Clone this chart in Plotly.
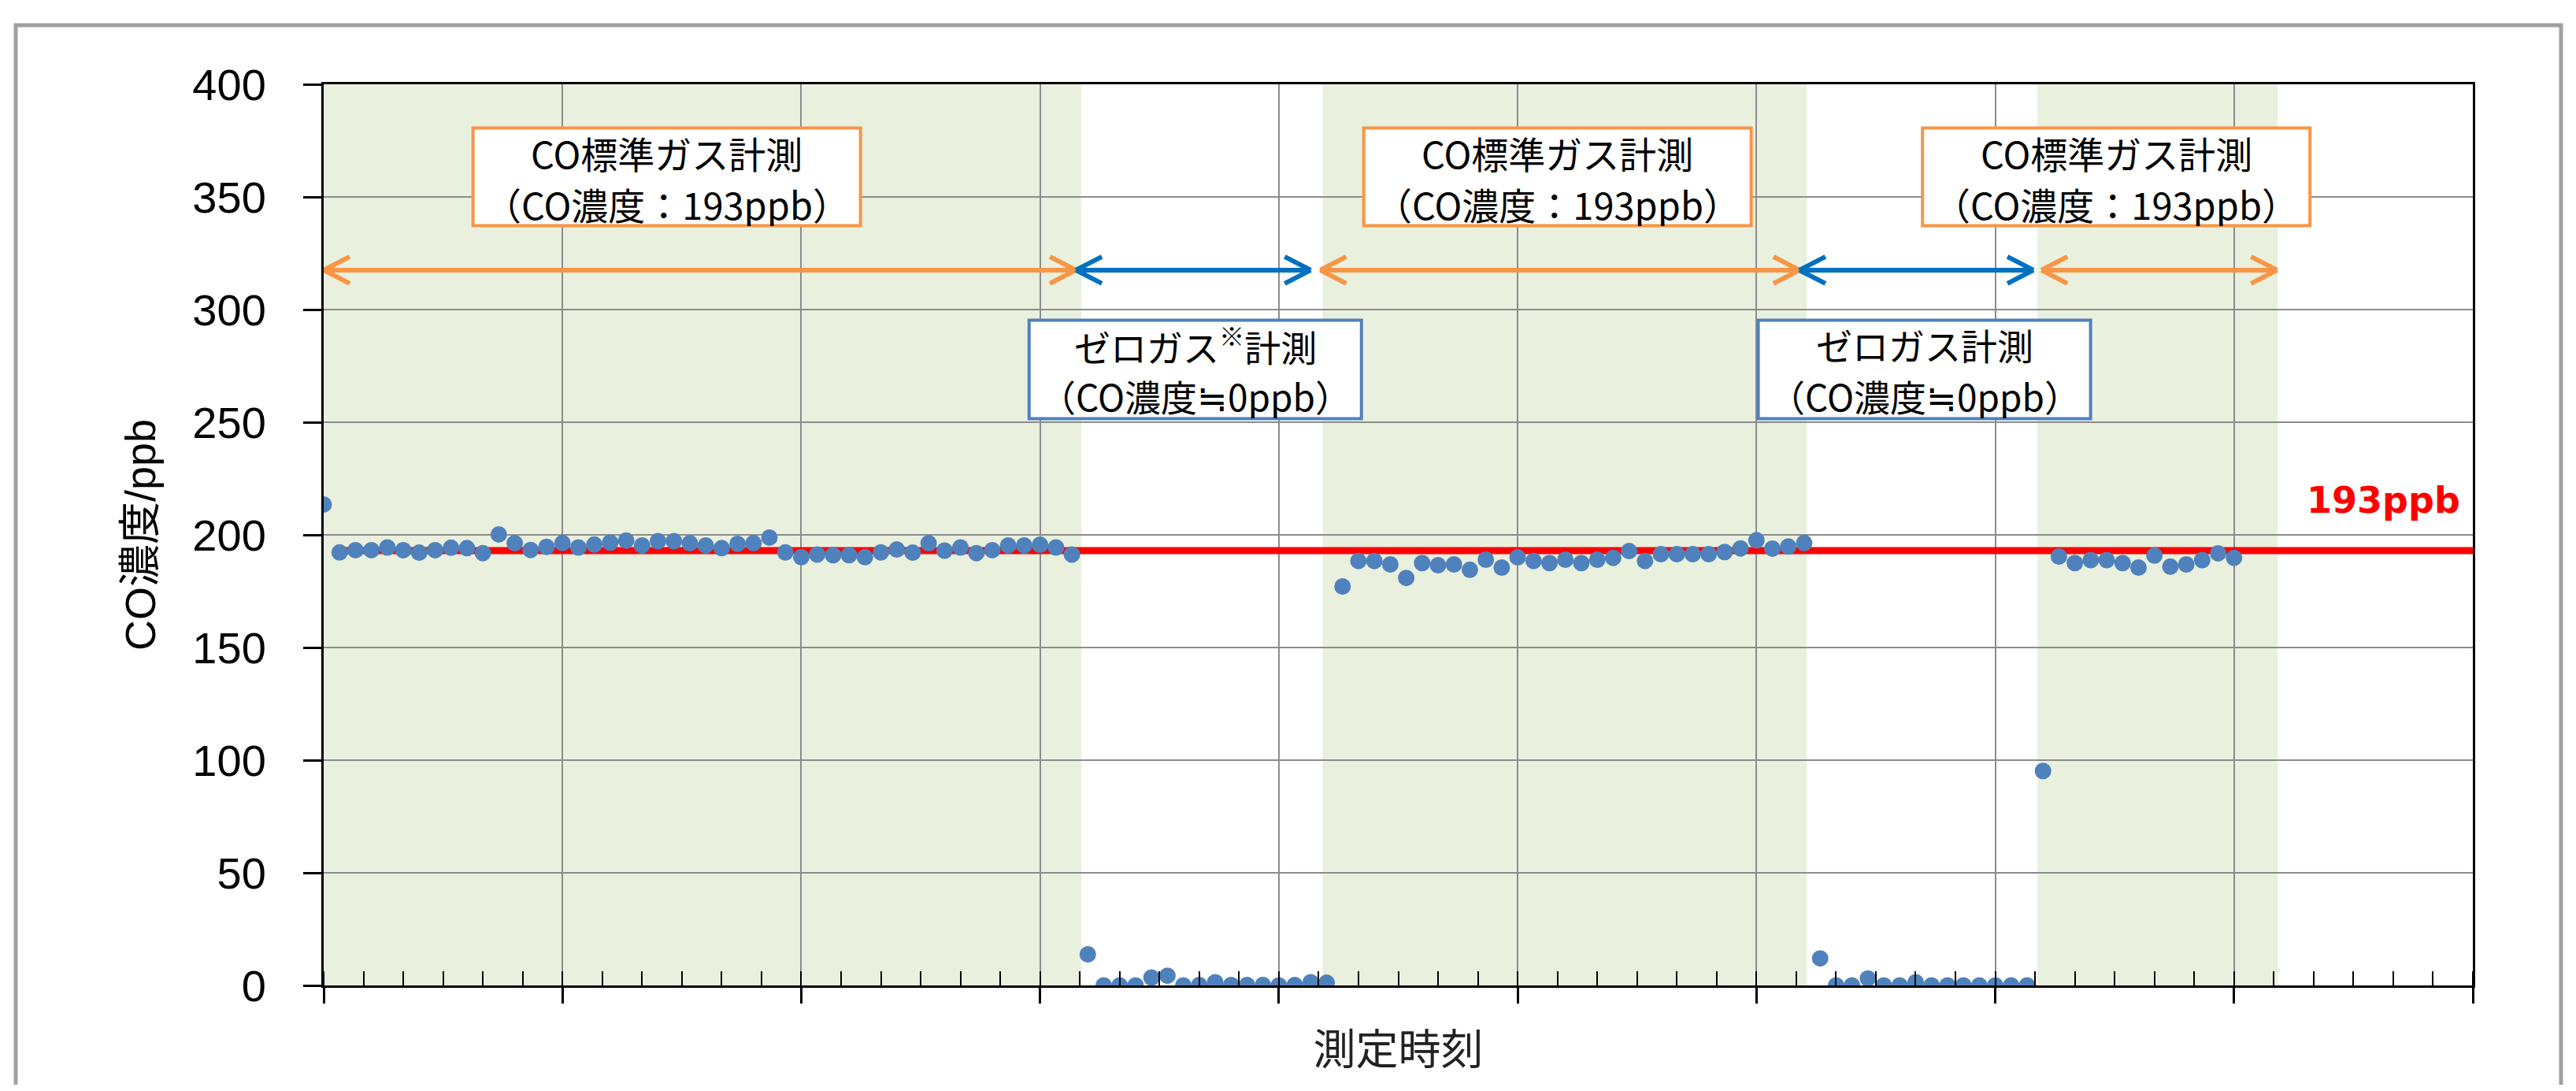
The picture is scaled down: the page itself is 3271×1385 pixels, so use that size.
import plotly.graph_objects as go

# ---------------- data ----------------
time_index = list(range(121))
co_ppb = [
    213.5, 192.2, 193.2, 193.2, 194.4, 193.2, 192.1, 193.2, 194.3, 194.1,
    191.9, 200.2, 196.3, 193.3, 194.7, 196.4, 194.4, 195.7, 196.6, 197.5,
    195.3, 197.2, 197.2, 196.3, 195.3, 194.1, 196.0, 196.3, 198.8, 192.2,
    190.1, 191.3, 191.0, 191.0, 190.1, 192.2, 193.5, 192.1, 196.3, 193.0,
    194.4, 191.9, 193.2, 195.3, 195.3, 195.6, 194.4, 191.3, 13.8, 0.0,
    0.0, 0.0, 3.5, 4.3, 0.0, 0.2, 1.4, 0.2, 0.2, 0.2,
    0.0, 0.2, 1.4, 1.2, 177.1, 188.4, 188.4, 186.9, 180.9, 187.5,
    186.5, 186.9, 184.5, 189.0, 185.5, 190.0, 188.4, 187.5, 189.0, 187.5,
    189.0, 189.8, 192.8, 188.4, 191.4, 191.4, 191.4, 191.4, 192.4, 194.0,
    197.6, 193.9, 194.8, 196.4, 12.0, 0.0, 0.0, 3.1, 0.0, 0.0,
    1.4, 0.0, 0.0, 0.0, 0.0, 0.0, 0.0, 0.0, 95.2, 190.4,
    187.5, 188.8, 188.8, 187.5, 185.5, 190.8, 185.9, 186.9, 188.8, 191.8,
    189.8,
]
reference_ppb = 193
reference_x = [1, 135]
reference_label = "193ppb"
reference_label_pos = (134.3, 215.5)

x_range = [0, 135]
x_major_step = 15
x_minor_step = 2.5
y_range = [0, 400]
y_step = 50

std_spans = [(0, 47.6), (62.75, 93.15), (107.65, 122.75)]     # shaded (standard gas)
arrow_value = 317.5
std_arrows = [(0, 47.25), (62.6, 92.7), (107.9, 122.7)]
zero_arrows = [(47.25, 62.0), (92.7, 107.4)]

std_box_x = [21.55, 77.5, 112.6]
std_box_y = 358.9
std_box_lines = ["CO標準ガス計測", "（CO濃度：193ppb）"]
zero_box_x = [54.75, 100.55]
zero_box_y = 273.4
zero_box_lines = [["ゼロガス<sup>※</sup>計測", "（CO濃度≒0ppb）"],
                  ["ゼロガス計測", "（CO濃度≒0ppb）"]]

y_title = "CO濃度/ppb"
x_title = "測定時刻"

# ---------------- style ----------------
PAGE_W, PAGE_H = 3271, 1385
BODY = 8                                # default page margin of the html body
W, H = PAGE_W - 2 * BODY, PAGE_H - 2 * BODY
PLOT_L, PLOT_R, PLOT_T, PLOT_B = 411, 3140, 107, 1251   # wanted page pixels
ML, MT = PLOT_L - BODY, PLOT_T - BODY
MR, MB = W - (PLOT_R - BODY), H - (PLOT_B - BODY)
pw, ph = PLOT_R - PLOT_L, PLOT_B - PLOT_T
ORANGE = "#F79646"
BLUE_ARROW = "#0070C0"
BLUE_BOX = "#4F81BD"
GREEN = "#EAF0DE"
MARK = "#4F81BD"
LATIN = "Liberation Sans, Arial, Noto Sans CJK JP"
CJK = "Noto Sans CJK JP"

fig = go.Figure()

fig.add_trace(go.Scatter(
    x=reference_x, y=[reference_ppb] * len(reference_x), mode="lines",
    line=dict(color="#FF0000", width=9), hoverinfo="skip", showlegend=False))

fig.add_trace(go.Scatter(
    x=time_index, y=co_ppb, mode="markers",
    marker=dict(color=MARK, size=21, line=dict(width=0)),
    showlegend=False))

shapes = []
for a, b in std_spans:
    shapes.append(dict(type="rect", xref="x", yref="paper", x0=a, x1=b, y0=0, y1=1,
                       fillcolor=GREEN, line=dict(width=0), layer="below"))


def add_arrow(a, b, color):
    shapes.append(dict(type="line", xref="x", yref="y", x0=a, x1=b,
                       y0=arrow_value, y1=arrow_value,
                       line=dict(color=color, width=6)))
    for anchor, d in ((a, 1), (b, -1)):
        for s in (1, -1):
            shapes.append(dict(type="line", xref="x", yref="y",
                               xsizemode="pixel", ysizemode="pixel",
                               xanchor=anchor, yanchor=arrow_value,
                               x0=0, x1=d * 33, y0=0, y1=s * 17,
                               line=dict(color=color, width=6)))


for a, b in std_arrows:
    add_arrow(a, b, ORANGE)
for a, b in zero_arrows:
    add_arrow(a, b, BLUE_ARROW)

annotations = []


def add_box(xc, yc, lines, color, w, h, size):
    shapes.append(dict(type="rect", xref="x", yref="y",
                       xsizemode="pixel", ysizemode="pixel",
                       xanchor=xc, yanchor=yc,
                       x0=-w / 2, x1=w / 2, y0=-h / 2, y1=h / 2,
                       fillcolor="white", line=dict(color=color, width=4),
                       layer="above"))
    for txt, shift in zip(lines, (32, -33)):
        annotations.append(dict(x=xc, y=yc, xref="x", yref="y", text=txt,
                                showarrow=False, xanchor="center", yanchor="middle",
                                yshift=shift, height=58, borderpad=0,
                                font=dict(family=CJK, size=size, color="black")))


for xc in std_box_x:
    add_box(xc, std_box_y, std_box_lines, ORANGE, 492, 124, 47)
for xc, lines in zip(zero_box_x, zero_box_lines):
    add_box(xc, zero_box_y, lines, BLUE_BOX, 422, 125, 46)

# outer frame (page px 20..3252 horizontally, top at 32)
shapes.append(dict(type="rect", xref="paper", yref="paper",
                   x0=(20 - PLOT_L) / pw, x1=(3252 - PLOT_L) / pw,
                   y0=-0.3, y1=(PLOT_B - 32) / ph,
                   line=dict(color="#a0a0a0", width=5), fillcolor="rgba(0,0,0,0)"))

annotations.append(dict(x=reference_label_pos[0], y=reference_label_pos[1], xref="x", yref="y",
                        text="<b>%s</b>" % reference_label, showarrow=False,
                        xanchor="right", yanchor="middle",
                        font=dict(family="DejaVu Sans", size=46, color="#FF0000")))

fig.update_layout(
    width=W, height=H, autosize=False,
    margin=dict(l=ML, r=MR, t=MT, b=MB, pad=0),
    paper_bgcolor="white", plot_bgcolor="rgba(0,0,0,0)",
    shapes=shapes, annotations=annotations, showlegend=False,
    xaxis=dict(range=x_range, tick0=0, dtick=x_major_step, showticklabels=False,
               ticks="outside", ticklen=20, tickwidth=2.5, tickcolor="black",
               showgrid=True, gridcolor="#8c8c8c", gridwidth=2,
               showline=True, linecolor="black", linewidth=3, mirror=True,
               zeroline=False,
               minor=dict(tick0=0, dtick=x_minor_step, ticks="inside", ticklen=18,
                          tickwidth=2, tickcolor="black", showgrid=False),
               title=dict(text=x_title, font=dict(family=CJK, size=54, color="#222"),
                          standoff=42)),
    yaxis=dict(range=y_range, tick0=0, dtick=y_step,
               ticks="outside", ticklen=23, tickwidth=3, tickcolor="black",
               ticklabelstandoff=36,
               tickfont=dict(family=LATIN, size=56, color="black"),
               showgrid=True, gridcolor="#8c8c8c", gridwidth=2,
               showline=True, linecolor="black", linewidth=3, mirror=True,
               zeroline=False,
               title=dict(text=y_title, font=dict(family=LATIN, size=54, color="black"),
                          standoff=30)),
)

fig.write_html("out.html")
